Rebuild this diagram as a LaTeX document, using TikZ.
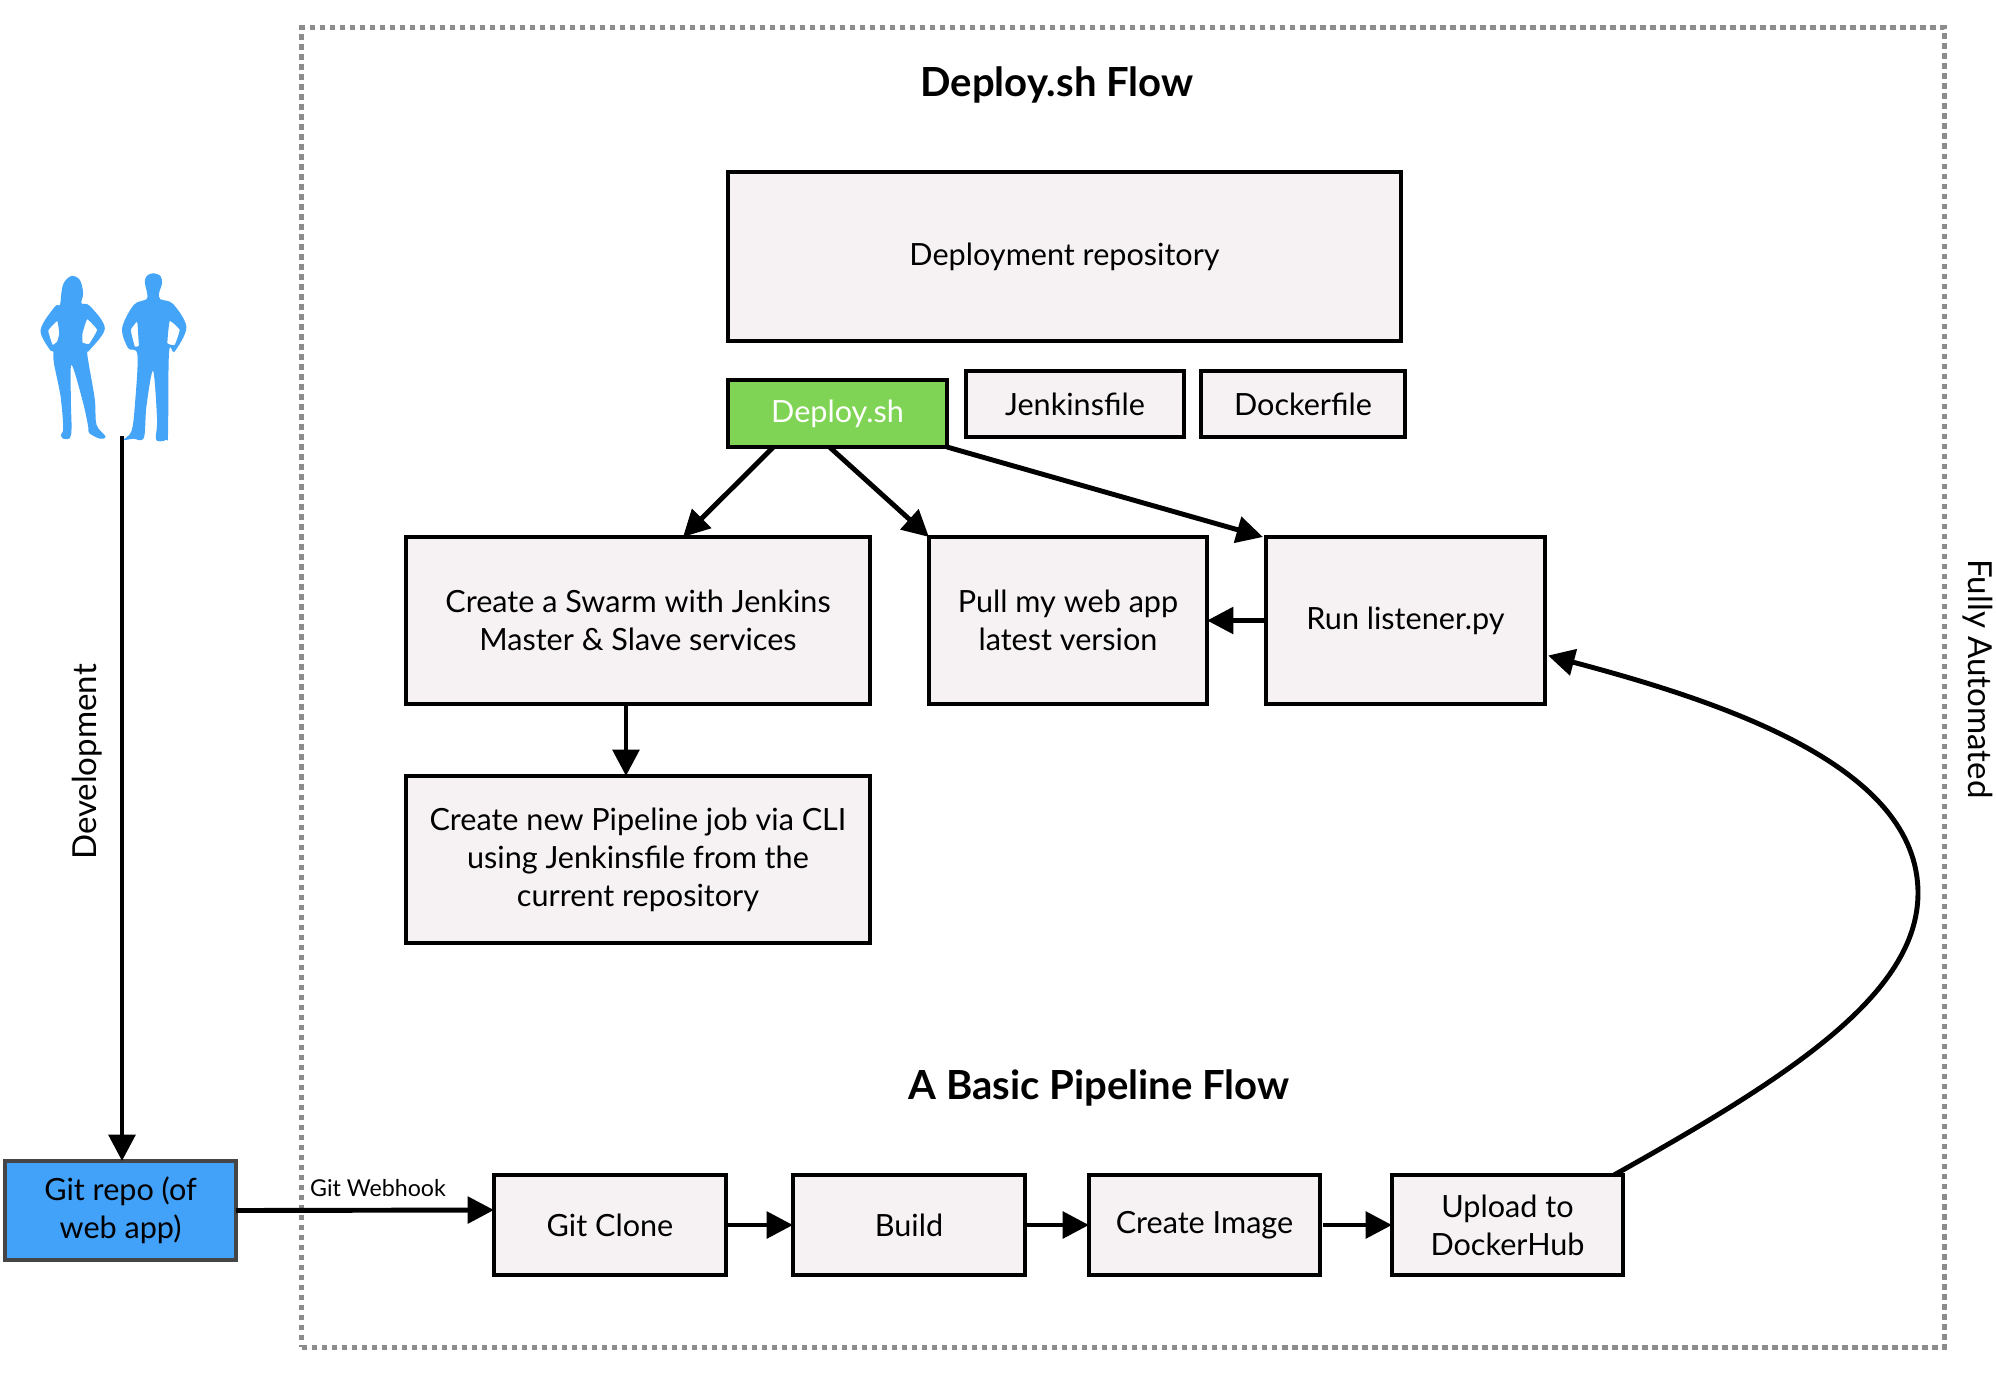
\documentclass[tikz,border=0pt]{standalone}
\usepackage{fontspec}
\usepackage{tikz}
\usetikzlibrary{arrows.meta}
\setmainfont{Lato}
\definecolor{boxfill}{HTML}{F6F2F3}
\definecolor{deploygreen}{HTML}{80D455}
\definecolor{gitblue}{HTML}{42A1F9}
\definecolor{peopleblue}{HTML}{44A4F8}
\definecolor{framegray}{HTML}{8C8C8C}
\definecolor{gitborder}{HTML}{454545}
\tikzset{
  box/.style={draw=black, line width=1pt, fill=boxfill, align=center, inner sep=0pt, outer sep=0pt, font=\fontsize{8.7}{10.8}\selectfont},
  flowline/.style={line width=1.4pt, -{Triangle[length=7.5pt,width=7.5pt]}},
  headline/.style={font=\fontsize{11.4}{14}\selectfont\bfseries},
  sidelabel/.style={font=\fontsize{9.4}{11}\selectfont},
}

\begin{document}
\begin{tikzpicture}[x=0.01cm,y=-0.01cm]
\useasboundingbox (0,0) rectangle (1996,1384);

\node (frame) [draw=framegray, line width=1.5pt, dash pattern=on 5.5 * 0.2845pt off 4.5 * 0.2845pt, minimum width=16.42cm, minimum height=13.19cm, outer sep=0pt] at (1123,687.5) {};

\node (deployflow) [headline] at (1057,85) {Deploy.sh Flow};
\node (pipelineflow) [headline] at (1099,1088) {A Basic Pipeline Flow};

\node (repo) [box, minimum width=6.73cm, minimum height=1.69cm] at (1064.5,256.5) {Deployment repository};
\node (deploy) [box, fill=deploygreen, text=white, minimum width=2.19cm, minimum height=0.67cm] at (837.5,413.5) {Deploy.sh};
\node (jenkinsfile) [box, minimum width=2.18cm, minimum height=0.66cm] at (1075,404) {Jenkinsfile};
\node (dockerfile) [box, minimum width=2.04cm, minimum height=0.66cm] at (1303,404) {Dockerfile};

\node (swarm) [box, minimum width=4.64cm, minimum height=1.67cm] at (638,620.5) {Create a Swarm with Jenkins\\Master \& Slave services};
\node (pull) [box, minimum width=2.78cm, minimum height=1.67cm] at (1068,620.5) {Pull my web app\\latest version};
\node (listener) [box, minimum width=2.79cm, minimum height=1.67cm] at (1405.5,620.5) {Run listener.py};
\node (pipeline) [box, minimum width=4.64cm, minimum height=1.67cm] at (638,859.5) {Create new Pipeline job via CLI\\using Jenkinsfile from the\\current repository};

\node (gitrepo) [box, draw=gitborder, fill=gitblue, minimum width=2.31cm, minimum height=0.99cm] at (120.5,1210.5) {Git repo (of\\web app)};
\node (clone) [box, minimum width=2.32cm, minimum height=1.00cm] at (610,1225) {Git Clone};
\node (build) [box, minimum width=2.32cm, minimum height=1.00cm] at (909,1225) {Build};
\node (image) [box, minimum width=2.31cm, minimum height=1.00cm] at (1204.5,1225) {Create Image};
\node (upload) [box, minimum width=2.31cm, minimum height=1.00cm] at (1507.5,1225) {Upload to\\DockerHub};

\node (development) [sidelabel, rotate=90] at (87,762) {Development};
\node (automated) [sidelabel, rotate=-90] at (1978,679) {Fully Automated};
\node (webhook) [font=\fontsize{6.6}{8}\selectfont] at (378,1188) {Git Webhook};

\coordinate (devstart) at (122,436);
\draw [flowline] (devstart) -- (devstart |- gitrepo.north);
\draw [flowline] (gitrepo.east) -- ([yshift=0.15cm]clone.west);
\draw [flowline] (clone) -- (build);
\draw [flowline] (build) -- (image);
\draw [flowline] ([xshift=0.03cm]image.east) -- (upload.west);
\draw [flowline] ([xshift=-0.64cm]deploy.south) -- ([xshift=0.45cm]swarm.north);
\draw [flowline] ([xshift=-0.08cm]deploy.south) -- (pull.north west);
\draw [flowline] (deploy.south east) -- ([xshift=-0.03cm]listener.north west);
\draw [flowline] (listener.west) -- (pull.east);
\draw [flowline] ([xshift=-0.12cm]swarm.south) -- ([xshift=-0.12cm]pipeline.north);
\draw [flowline] ([xshift=1.065cm]upload.north) .. controls (1787,1078) and (1918,995) .. (1918,893) .. controls (1918,766) and (1723,702) .. ([yshift=-0.35cm,xshift=0.03cm]listener.east);

\begin{scope}[shift={(0,240)},x=0.003333cm,y=-0.003333cm]
\fill [peopleblue, even odd rule] plot [smooth cycle, tension=0.55] coordinates {(192,128) (215,108) (240,120) (250,160) (245,190) (270,198) (315,265) (270,330) (262,338) (268,380) (285,480) (290,555) (317,590) (300,597) (268,580) (265,560) (250,490) (215,375) (213,480) (215,565) (210,595) (190,597) (183,585) (190,565) (182,470) (162,370) (160,335) (150,330) (122,270) (165,200) (180,195) (185,155)}
  plot [smooth cycle, tension=0.2] coordinates {(172,243) (145,272) (158,315) (172,305) (178,280)}
  plot [smooth cycle, tension=0.2] coordinates {(262,238) (248,280) (248,308) (268,312) (292,270)};
\fill [peopleblue, even odd rule] plot [smooth cycle, tension=0.55] coordinates {(460,100) (482,108) (487,130) (478,160) (482,178) (520,192) (560,262) (525,335) (508,337) (505,580) (500,600) (480,605) (468,595) (472,540) (460,393) (440,500) (432,595) (400,597) (372,600) (395,575) (405,500) (413,345) (385,325) (367,265) (402,195) (440,178) (442,160) (435,125) (442,107)}
  plot [smooth cycle, tension=0.2] coordinates {(412,245) (393,270) (405,320) (417,318) (415,280)}
  plot [smooth cycle, tension=0.2] coordinates {(510,243) (503,310) (525,315) (540,270)};
\end{scope}
\end{tikzpicture}
\end{document}
